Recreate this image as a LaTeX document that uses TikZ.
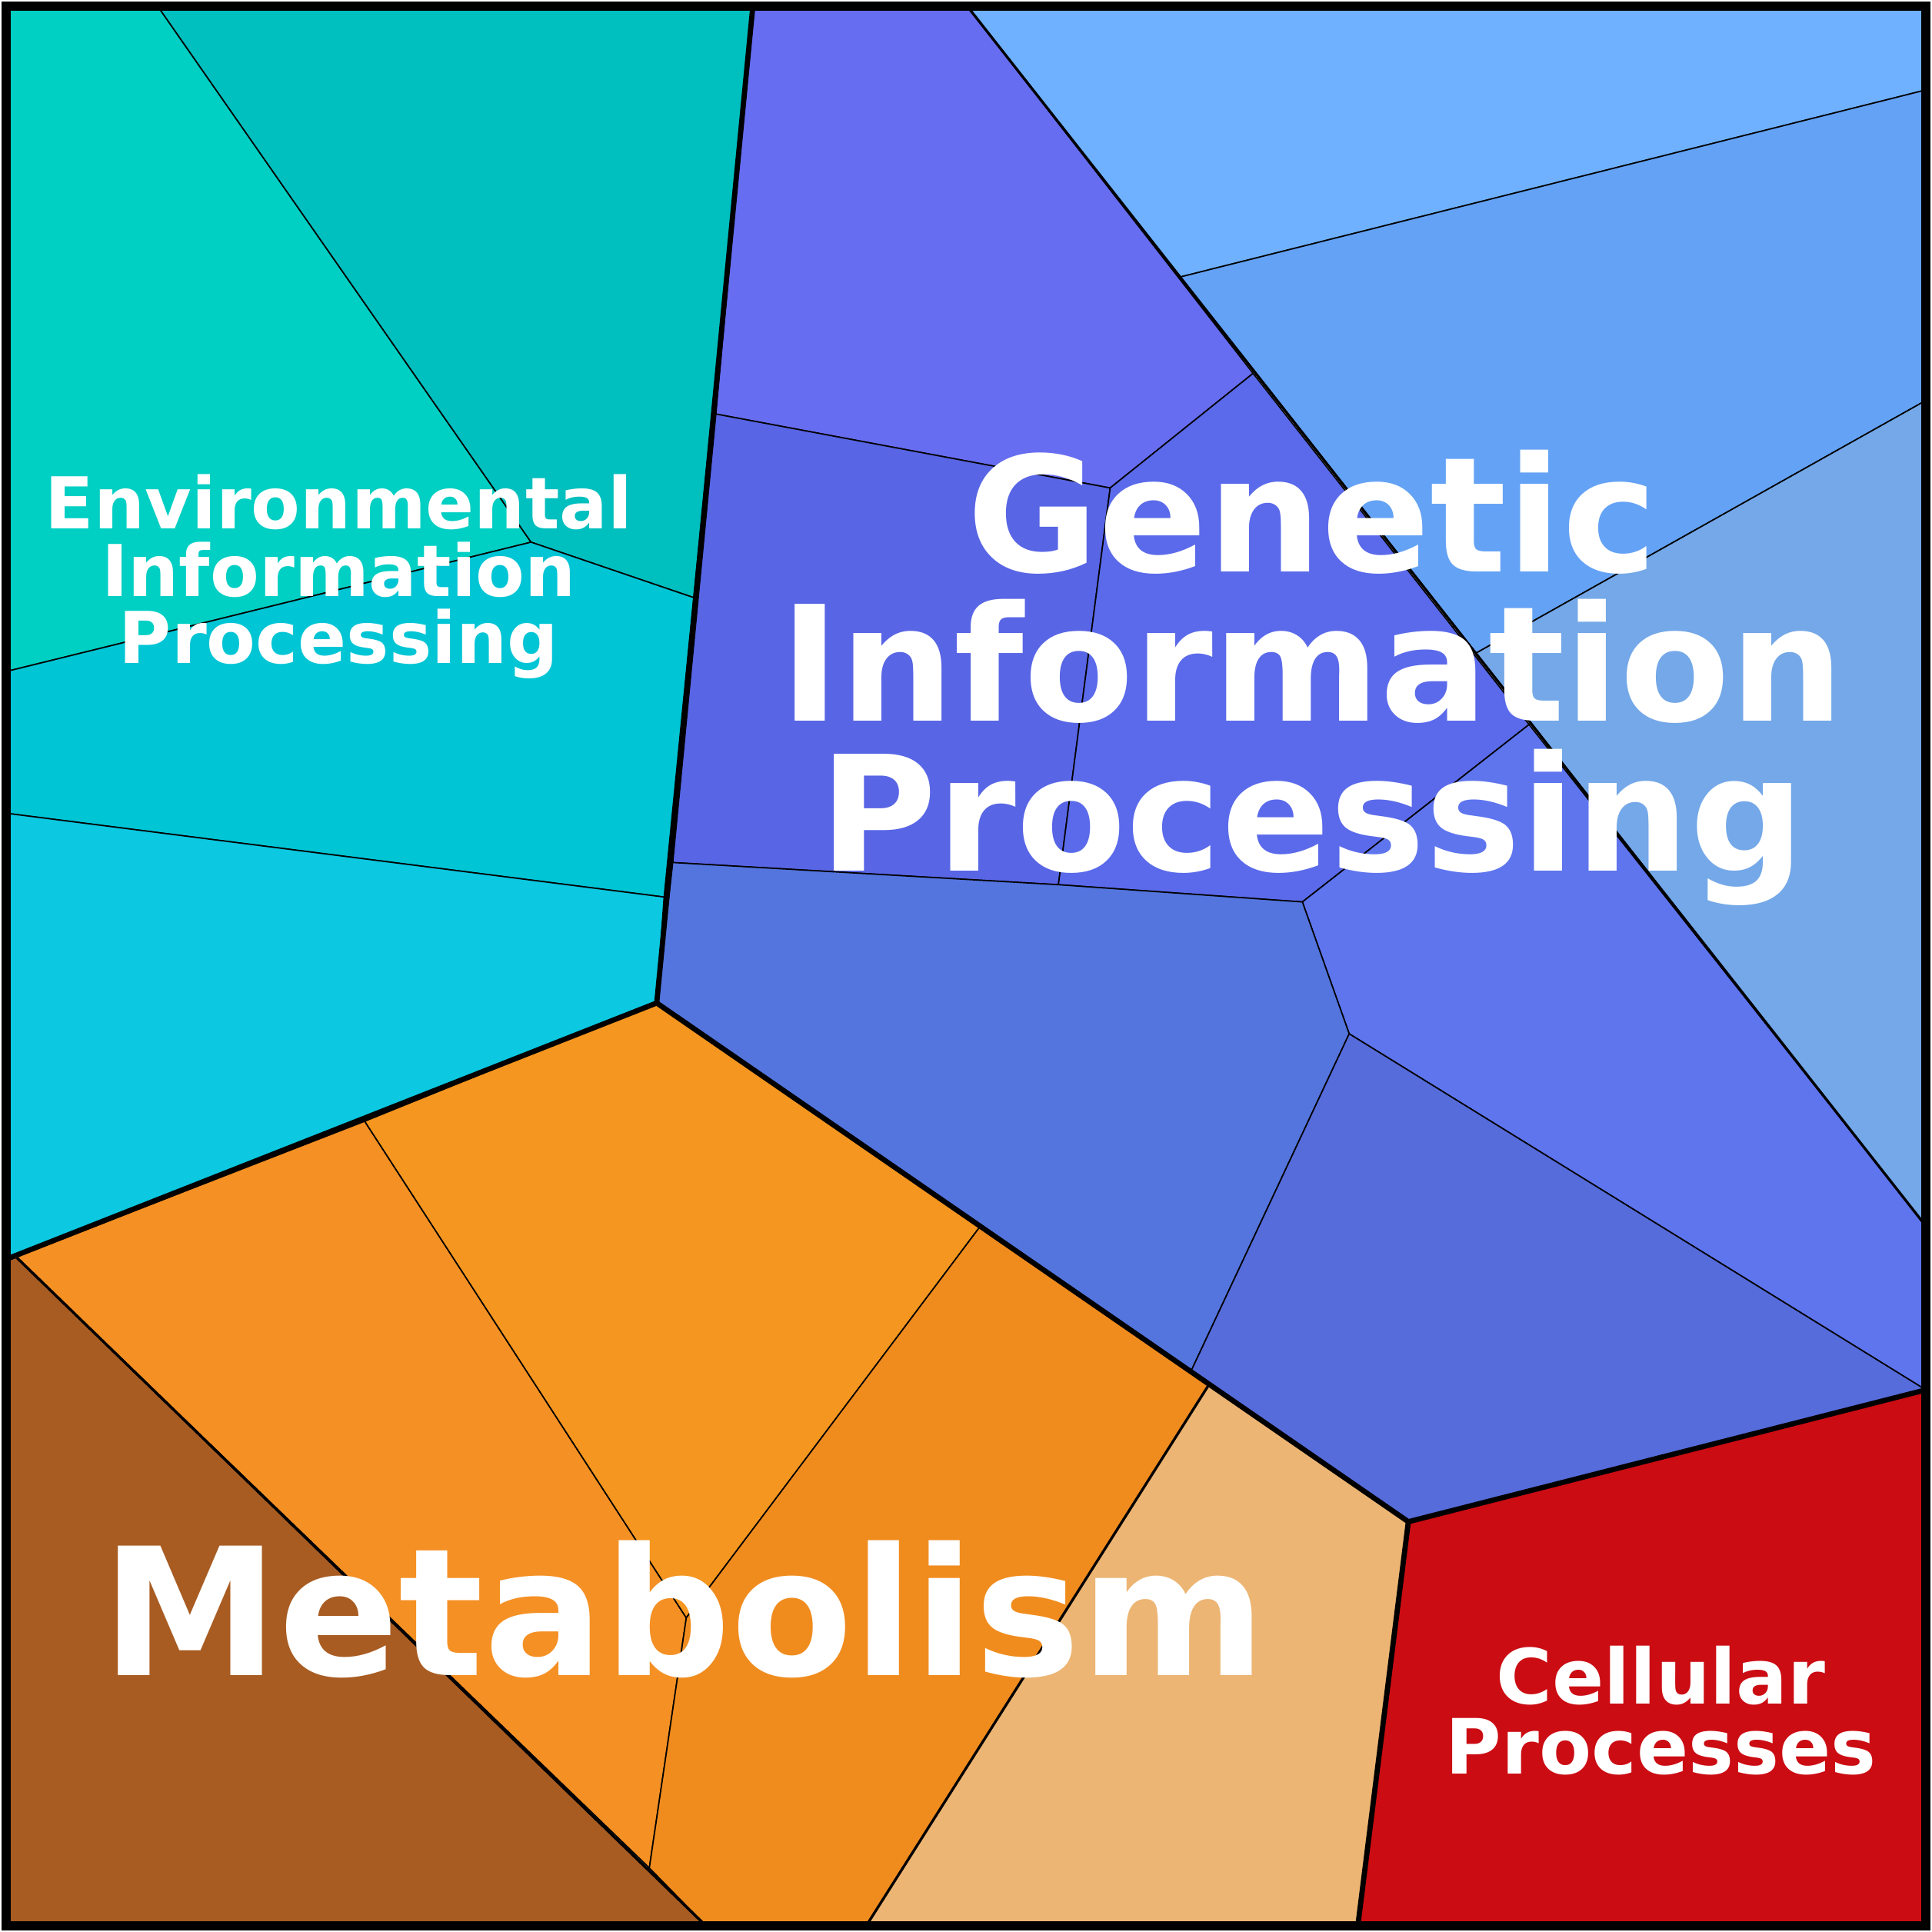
\documentclass[tikz,border=0pt]{standalone}
\usepackage{fontspec}
\setmainfont{DejaVu Sans}
\begin{document}
\begin{tikzpicture}[x=0.01cm,y=-0.01cm,
  cell/.style={draw=black,line width=0.3pt},
  thick/.style={draw=black,line width=1.2pt,line join=round},
  lbl/.style={text=white,font=\bfseries,align=center}]
\useasboundingbox (0,0) rectangle (1568,1568);
% Environmental
\filldraw[cell,fill={rgb,255:red,0;green,207;blue,195}] (5,5)--(128,5)--(431,440)--(5,545)--cycle;
\filldraw[cell,fill={rgb,255:red,0;green,191;blue,191}] (128,5)--(611,5)--(563,485)--(431,440)--cycle;
\filldraw[cell,fill={rgb,255:red,0;green,197;blue,213}] (5,545)--(431,440)--(563,485)--(539,728)--(5,660)--cycle;
\filldraw[cell,fill={rgb,255:red,12;green,200;blue,224}] (5,660)--(539,728)--(533,814)--(5,1022)--cycle;
% Genetic
\filldraw[cell,fill={rgb,255:red,103;green,109;blue,240}] (611,5)--(785,5)--(1017,303)--(901,396)--(581,336)--cycle;
\filldraw[cell,fill={rgb,255:red,88;green,101;blue,229}] (581,336)--(901,396)--(859,718)--(546,700)--cycle;
\filldraw[cell,fill={rgb,255:red,90;green,106;blue,234}] (901,396)--(1017,303)--(1241,588)--(1057,732)--(859,718)--cycle;
\filldraw[cell,fill={rgb,255:red,94;green,117;blue,238}] (1241,588)--(1563,995)--(1563,1128)--(1095,839)--(1057,732)--cycle;
\filldraw[cell,fill={rgb,255:red,84;green,117;blue,222}] (546,700)--(859,718)--(1057,732)--(1095,839)--(967,1112)--(533,814)--cycle;
\filldraw[cell,fill={rgb,255:red,86;green,108;blue,219}] (1095,839)--(1563,1128)--(1143,1235)--(967,1112)--cycle;
\filldraw[cell,fill={rgb,255:red,111;green,177;blue,255}] (785,5)--(1563,5)--(1563,73)--(957,225)--cycle;
\filldraw[cell,fill={rgb,255:red,100;green,162;blue,245}] (957,225)--(1563,73)--(1563,325)--(1198,530)--cycle;
\filldraw[cell,fill={rgb,255:red,116;green,168;blue,232}] (1198,530)--(1563,325)--(1563,995)--cycle;
\draw[line width=0.6pt] (785,5)--(1563,995);
% Metabolism
\filldraw[cell,line width=0.6pt,fill={rgb,255:red,168;green,92;blue,34}] (5,1022)--(13,1020)--(573,1563)--(5,1563)--cycle;
\filldraw[cell,fill={rgb,255:red,244;green,144;blue,36}] (13,1020)--(296,910)--(557,1313)--(527,1516)--cycle;
\filldraw[cell,fill={rgb,255:red,244;green,150;blue,31}] (296,910)--(533,814)--(795,996)--(557,1313)--cycle;
\filldraw[cell,fill={rgb,255:red,240;green,140;blue,30}] (795,996)--(981,1124)--(703,1563)--(573,1563)--(527,1516)--(557,1313)--cycle;
\filldraw[cell,line width=0.6pt,fill={rgb,255:red,236;green,181;blue,115}] (981,1124)--(1143,1235)--(1102,1563)--(703,1563)--cycle;
\draw[line width=0.6pt] (13,1020)--(573,1563);
% Cellular
\filldraw[cell,fill={rgb,255:red,203;green,12;blue,19}] (1143,1235)--(1563,1128)--(1563,1563)--(1102,1563)--cycle;
% thick boundaries
\draw[thick] (611,5)--(533,814)--(5,1022);
\draw[thick] (533,814)--(1143,1235)--(1563,1128);
\draw[thick] (1143,1235)--(1102,1563);
\draw[line width=2pt] (5,5) rectangle (1563,1563);
% labels
\node[lbl,font=\bfseries\fontsize{37}{34.5}\selectfont] (gen) at (1065,550) {Genetic\\Information\\Processing};
\node[lbl,font=\bfseries\fontsize{16.5}{15.6}\selectfont] (env) at (275,468) {Environmental\\Information\\Processing};
\node[lbl,font=\bfseries\fontsize{41}{41}\selectfont] (met) at (555,1306) {Metabolism};
\node[lbl,font=\bfseries\fontsize{17.6}{16.2}\selectfont] (cel) at (1348,1388) {Cellular\\Processes};
\end{tikzpicture}
\end{document}
